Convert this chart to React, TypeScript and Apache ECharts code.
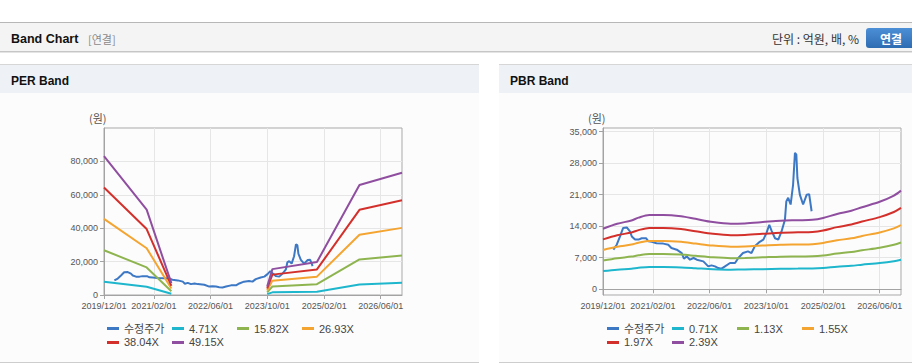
import React, { useEffect, useRef } from "react";
import * as echarts from "echarts";

// ---------- data ----------
const axisStart = "2019-12-01";
const axisEnd = "2026-12-01";
const tickDates = ["2019-12-01", "2021-02-01", "2022-06-01", "2023-10-01", "2025-02-01", "2026-06-01"];

const priceName = "수정주가";
const priceDates = [
  "2020-02-28", "2020-03-28", "2020-04-25", "2020-05-22", "2020-06-22", "2020-07-19", "2020-08-04",
  "2020-09-01", "2020-10-01", "2020-10-28", "2020-12-04", "2020-12-25", "2021-01-22", "2021-03-04",
  "2021-05-01", "2021-06-13", "2021-07-10", "2021-08-25", "2021-10-07", "2021-10-25", "2021-11-19",
  "2021-12-16", "2022-01-16", "2022-02-13", "2022-04-10", "2022-05-22", "2022-06-19", "2022-07-19",
  "2022-08-16", "2022-09-13", "2022-10-13", "2022-11-25", "2023-01-07", "2023-02-04", "2023-03-16",
  "2023-04-28", "2023-05-28", "2023-06-25", "2023-08-07", "2023-09-07", "2023-10-04", "2023-10-28",
  "2023-11-16", "2023-12-16", "2024-01-13", "2024-02-10", "2024-03-10", "2024-03-22", "2024-04-07",
  "2024-04-28", "2024-05-19", "2024-06-04", "2024-06-16", "2024-06-25", "2024-07-16", "2024-08-13",
  "2024-09-13", "2024-10-04", "2024-10-25",
];
const priceValues = [
  8750, 9860, 11700, 13600, 13700, 12800, 11700,
  11000, 11000, 11300, 11300, 10600, 10500, 10200,
  10100, 9860, 9120, 8750, 8000, 6740, 7260,
  6520, 6900, 6520, 6150, 5040, 5260, 5040,
  4670, 4520, 5040, 5780, 5780, 6900, 8000,
  8380, 8000, 9490, 10500, 11000, 12500, 14300,
  13000, 11300, 11000, 12800, 15400, 19500, 20300,
  18800, 23200, 30300, 29900, 24700, 21000, 18800,
  21000, 21100, 17300,
];

// PER band
const perNames = ["4.71X", "15.82X", "26.93X", "38.04X", "49.15X"];
const perDates = ["2019-12-01", "2020-12-01", "2021-07-01", "2022-09-01", "2023-10-01", "2023-11-15", "2024-12-01", "2025-12-01", "2026-12-01"];
const per471 = [7970, 4900, 700, null, 500, 1600, 2000, 6300, 7300];
const per1582 = [26800, 16500, 2300, null, 1600, 5100, 6500, 21300, 23600];
const per2693 = [45600, 28000, 3900, null, 2700, 8600, 11000, 36100, 40200];
const per3804 = [64400, 39500, 5500, null, 3900, 12200, 15300, 51000, 56700];
const per4915 = [83200, 51100, 7100, null, 5000, 15500, 19700, 65900, 73200];
const perYTicks = [0, 20000, 40000, 60000, 80000];

// PBR band
const pbrNames = ["0.71X", "1.13X", "1.55X", "1.97X", "2.39X"];
const pbrDates = [
  "2019-12-01", "2020-04-01", "2020-08-01", "2020-10-01", "2021-01-01", "2021-05-01", "2021-10-01",
  "2022-02-01", "2022-07-01", "2022-12-01", "2023-04-01", "2023-09-01", "2024-02-01", "2024-07-01",
  "2024-11-01", "2025-02-01", "2025-06-01", "2025-10-01", "2026-01-01", "2026-06-01", "2026-10-01", "2026-12-01",
];
const pbr071 = [3980, 4310, 4530, 4720, 4900, 4900, 4810, 4640, 4420, 4310, 4340, 4420, 4520, 4540, 4570, 4690, 4960, 5170, 5410, 5770, 6180, 6500];
const pbr113 = [6340, 6860, 7210, 7510, 7800, 7800, 7660, 7380, 7040, 6860, 6900, 7040, 7190, 7230, 7280, 7470, 7900, 8230, 8610, 9180, 9830, 10350];
const pbr155 = [8700, 9410, 9890, 10310, 10700, 10700, 10510, 10120, 9660, 9410, 9470, 9660, 9860, 9920, 9980, 10250, 10840, 11280, 11810, 12590, 13490, 14200];
const pbr197 = [11050, 11960, 12570, 13100, 13590, 13590, 13360, 12860, 12270, 11960, 12040, 12270, 12530, 12610, 12690, 13020, 13770, 14340, 15010, 16000, 17140, 18050];
const pbr239 = [13410, 14510, 15250, 15890, 16490, 16490, 16200, 15610, 14890, 14510, 14600, 14890, 15200, 15300, 15390, 15800, 16710, 17400, 18210, 19410, 20790, 21890];
const pbrYTicks = [0, 7000, 14000, 21000, 28000, 35000];

const colors = ["#3d78c5", "#1eb6cc", "#8eb450", "#f4a430", "#d3302c", "#8f4e9f"];

// ---------- helpers ----------
const FONT = '"Liberation Sans", Arial, "Noto Sans CJK KR", sans-serif';
const KFONT = '"Noto Sans CJK KR", "Liberation Sans", sans-serif';
const ts = (s: string) => {
  const [y, m, d] = s.split("-").map(Number);
  return new Date(y, m - 1, d).getTime();
};
const pad = (n: number) => String(n).padStart(2, "0");
const fmtDate = (v: number) => {
  const d = new Date(v);
  return `${d.getFullYear()}/${pad(d.getMonth() + 1)}/${pad(d.getDate())}`;
};
const fmtNum = (v: number) => Math.round(v).toLocaleString("en-US");
const pairs = (dates: string[], vals: (number | null)[]) => dates.map((d, i) => [ts(d), vals[i] === null ? "-" : vals[i]]);

function makeX(gridIndex: number) {
  const ticks = tickDates.map(ts);
  return {
    type: "value",
    gridIndex,
    min: ts(axisStart),
    max: ts(axisEnd),
    axisLine: { show: true, lineStyle: { color: "#a3a3a3" } },
    axisTick: { show: true, customValues: ticks, length: 4, lineStyle: { color: "#a3a3a3" } },
    axisLabel: {
      customValues: ticks,
      formatter: (v: number) => fmtDate(v),
      fontSize: 9,
      color: "#555",
      margin: 6,
      fontFamily: FONT,
      hideOverlap: false,
    },
    splitLine: { show: true, lineStyle: { color: "#e6e6e6" } },
  };
}

function makeY(gridIndex: number, min: number, max: number, ticks: number[]) {
  return {
    type: "value",
    gridIndex,
    min,
    max,
    axisLine: { show: true, lineStyle: { color: "#a3a3a3" } },
    axisTick: { show: true, customValues: ticks, length: 4, lineStyle: { color: "#a3a3a3" } },
    axisLabel: {
      customValues: ticks,
      formatter: (v: number) => fmtNum(v),
      fontSize: 9,
      color: "#555",
      margin: 6,
      fontFamily: FONT,
    },
    splitLine: { show: true, lineStyle: { color: "#e6e6e6" } },
  };
}

function lineSeries(name: string, data: any[], color: string, idx: number, smooth: number | boolean = false) {
  return {
    type: "line",
    name,
    data,
    xAxisIndex: idx,
    yAxisIndex: idx,
    showSymbol: false,
    symbol: "none",
    smooth,
    connectNulls: false,
    lineStyle: { width: 2, color },
    itemStyle: { color },
    emphasis: { disabled: true },
  };
}

function makeLegend(left: number, names: string[]) {
  return {
    left,
    top: 323,
    width: 262,
    padding: 0,
    itemGap: 3,
    itemWidth: 12,
    itemHeight: 3,
    icon: "rect",
    selectedMode: false,
    data: names,
    formatter: "{a|{name}}",
    textStyle: {
      rich: { a: { width: 45, fontSize: 11, lineHeight: 12, color: "#444", fontFamily: FONT } },
    },
  };
}

function panel(x: number, w: number, title: string) {
  return [
    { type: "rect", z: -10, shape: { x, y: 64, width: w, height: 299 }, style: { fill: "#fcfcfc" }, silent: true },
    { type: "rect", z: -9, shape: { x, y: 64, width: w, height: 29 }, style: { fill: "#eef2f7" }, silent: true },
    { type: "line", z: -8, shape: { x1: x, y1: 64.5, x2: x + w, y2: 64.5 }, style: { stroke: "#d6d6d6", lineWidth: 1 }, silent: true },
    { type: "line", z: -8, shape: { x1: x, y1: 362.5, x2: x + w, y2: 362.5 }, style: { stroke: "#cdcdcd", lineWidth: 1 }, silent: true },
    {
      type: "text", z: 5, x: x + 11, y: 80.5,
      style: { text: title, fontSize: 12, fontWeight: "bold", fill: "#111", fontFamily: FONT, verticalAlign: "middle" },
    },
  ];
}

export default function App() {
  const ref = useRef<HTMLDivElement>(null);
  useEffect(() => {
    if (!ref.current) return;
    document.body.style.margin = "0";
    const chart = echarts.init(ref.current, null, { renderer: "svg" });
    const perBands = [per471, per1582, per2693, per3804, per4915];
    const pbrBands = [pbr071, pbr113, pbr155, pbr197, pbr239];
    const priceData = pairs(priceDates, priceValues);
    const series: any[] = [
      lineSeries(priceName, priceData, colors[0], 0),
      ...perNames.map((n, k) => lineSeries(n, pairs(perDates, perBands[k]), colors[k + 1], 0)),
      lineSeries(priceName, priceData, colors[0], 1),
      ...pbrNames.map((n, k) => lineSeries(n, pairs(pbrDates, pbrBands[k]), colors[k + 1], 1, 0.3)),
    ];
    chart.setOption({
      animation: false,
      backgroundColor: "#ffffff",
      textStyle: { fontFamily: FONT },
      grid: [
        { left: 104, top: 128, width: 298, height: 167, show: true, borderColor: "#a9a9a9", borderWidth: 1, backgroundColor: "rgba(255,255,255,0)" },
        { left: 603, top: 128, width: 298, height: 167, show: true, borderColor: "#a9a9a9", borderWidth: 1, backgroundColor: "rgba(255,255,255,0)" },
      ],
      xAxis: [makeX(0), makeX(1)],
      yAxis: [makeY(0, 0, 100000, perYTicks), makeY(1, -1335, 35830, pbrYTicks)],
      legend: [makeLegend(107, [priceName, ...perNames]), makeLegend(607, [priceName, ...pbrNames])],
      tooltip: { show: false },
      series,
      graphic: [
        { type: "rect", z: -10, shape: { x: 0, y: 22, width: 912, height: 30 }, style: { fill: "#f4f4f4" }, silent: true },
        { type: "line", z: -8, shape: { x1: 0, y1: 22.5, x2: 912, y2: 22.5 }, style: { stroke: "#b7b7b7", lineWidth: 1 }, silent: true },
        { type: "line", z: -8, shape: { x1: 0, y1: 51.5, x2: 912, y2: 51.5 }, style: { stroke: "#c6c6c6", lineWidth: 1 }, silent: true },
        { type: "line", z: -8, shape: { x1: 0, y1: 52.5, x2: 912, y2: 52.5 }, style: { stroke: "#e4e4e4", lineWidth: 1 }, silent: true },
        { type: "text", z: 5, x: 11, y: 38.5, style: { text: "Band Chart", fontSize: 12.5, fontWeight: "bold", fill: "#111", fontFamily: FONT, verticalAlign: "middle" } },
        { type: "text", z: 5, x: 88, y: 38.5, style: { text: "[연결]", fontSize: 11, fill: "#8a8a8a", fontFamily: KFONT, verticalAlign: "middle" } },
        { type: "text", z: 5, x: 859, y: 38.5, style: { text: "단위 : 억원, 배, %", fontSize: 12, fill: "#333", fontFamily: KFONT, align: "right", verticalAlign: "middle" } },
        {
          type: "rect", z: 5, shape: { x: 866, y: 28, width: 50, height: 20, r: 3 },
          style: {
            fill: new echarts.graphic.LinearGradient(0, 0, 0, 1, [
              { offset: 0, color: "#4c8fd6" },
              { offset: 1, color: "#2e6cb2" },
            ]),
          },
          silent: true,
        },
        { type: "text", z: 6, x: 891, y: 38, style: { text: "연결", fontSize: 12, fontWeight: "bold", fill: "#ffffff", fontFamily: KFONT, align: "center", verticalAlign: "middle" } },
        ...panel(0, 479, "PER Band"),
        ...panel(499, 413, "PBR Band"),
        { type: "text", z: 5, x: 89, y: 118, style: { text: "(원)", fontSize: 11, fill: "#555", fontFamily: KFONT, verticalAlign: "middle" } },
        { type: "text", z: 5, x: 588, y: 118, style: { text: "(원)", fontSize: 11, fill: "#555", fontFamily: KFONT, verticalAlign: "middle" } },
      ],
    });
    return () => chart.dispose();
  }, []);
  return <div ref={ref} style={{ width: 912, height: 364 }} />;
}
